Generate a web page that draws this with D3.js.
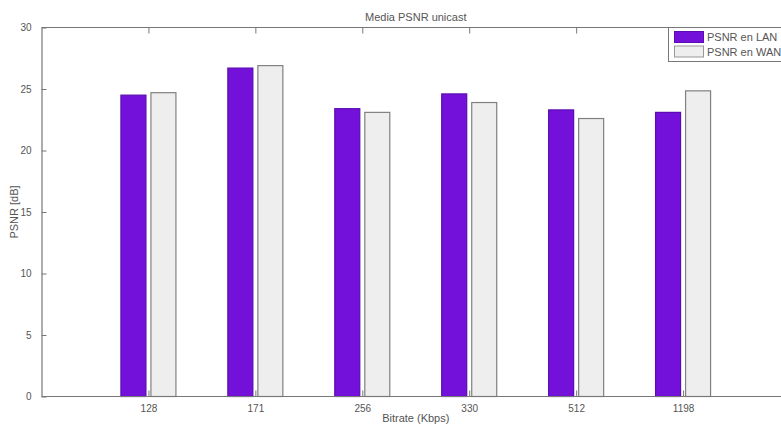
<!DOCTYPE html>
<html>
<head>
<meta charset="utf-8">
<script src="https://cdn.jsdelivr.net/npm/d3@7"></script>
<style>
  html, body { margin: 0; padding: 0; background: #fff; }
  svg { display: block; }
  text { font-family: "Liberation Sans", Arial, sans-serif; fill: #555; }
</style>
</head>
<body>
<div id="chart"></div>
<script>
const categories = ["128", "171", "256", "330", "512", "1198"];
const lanValues = [24.5, 26.7, 23.4, 24.6, 23.3, 23.1];
const wanValues = [24.7, 26.9, 23.1, 23.9, 22.6, 24.85];
const seriesNames = ["PSNR en LAN", "PSNR en WAN"];
const yTicks = [0, 5, 10, 15, 20, 25, 30];
const title = "Media PSNR unicast";
const xLabel = "Bitrate (Kbps)";
const yLabel = "PSNR [dB]";

const W = 781, H = 426;
const svg = d3.select("#chart").append("svg").attr("width", W).attr("height", H);

const mLeft = 41.5, mRight = 790, mTop = 27.5, mBottom = 396.5;
const colors = ["#7311DB", "#EEEEEE"];
const strokes = ["#5a0cb0", "#808080"];
const axisColor = "#777";

// categorical positions at 1..n within domain [0, n+1]
const x = d3.scaleLinear().domain([0, categories.length + 1]).range([mLeft, mRight]);
const y = d3.scaleLinear().domain([0, 30]).range([mBottom, mTop]);

const barW = 25, offset = 15;
const series = [lanValues, wanValues];

series.forEach((vals, si) => {
  svg.append("g").selectAll("rect").data(vals).join("rect")
    .attr("x", (d, i) => x(i + 1) + (si === 0 ? -offset : offset) - barW / 2)
    .attr("y", d => y(d))
    .attr("width", barW)
    .attr("height", d => y(0) - y(d))
    .attr("fill", colors[si])
    .attr("stroke", strokes[si])
    .attr("stroke-width", 1.2);
});

// frame lines
svg.append("line").attr("x1", mLeft).attr("x2", mRight).attr("y1", mBottom).attr("y2", mBottom)
  .attr("stroke", axisColor).attr("stroke-width", 1.2);
svg.append("line").attr("x1", mLeft).attr("x2", mRight).attr("y1", mTop).attr("y2", mTop)
  .attr("stroke", axisColor).attr("stroke-width", 1.2);

// left axis
const yAxis = d3.axisLeft(y).tickValues(yTicks).tickSize(-5).tickPadding(10);
const gy = svg.append("g").attr("transform", `translate(${mLeft},0)`).call(yAxis);
gy.select(".domain").attr("stroke", axisColor).attr("stroke-width", 1.2);
gy.selectAll(".tick line").attr("stroke", axisColor);
gy.selectAll(".tick text").attr("font-size", 10).attr("fill", "#555").attr("font-family", "Liberation Sans, Arial, sans-serif");
gy.selectAll(".tick").filter(d => d === 30 || d === 0).select("line").remove();

// bottom axis
const xAxis = d3.axisBottom(x).tickValues(d3.range(1, categories.length + 1))
  .tickFormat(d => categories[d - 1]).tickSize(-6).tickPadding(8);
const gx = svg.append("g").attr("transform", `translate(0,${mBottom})`).call(xAxis);
gx.select(".domain").remove();
gx.selectAll(".tick line").attr("stroke", axisColor);
gx.selectAll(".tick text").attr("font-size", 10).attr("fill", "#555").attr("font-family", "Liberation Sans, Arial, sans-serif");

// top ticks
const xTop = d3.axisTop(x).tickValues(d3.range(1, categories.length + 1)).tickSize(-6).tickFormat("");
const gt = svg.append("g").attr("transform", `translate(0,${mTop})`).call(xTop);
gt.select(".domain").remove();
gt.selectAll(".tick line").attr("stroke", axisColor);

// title and labels
svg.append("text").attr("x", (mLeft + mRight) / 2).attr("y", 21).attr("text-anchor", "middle")
  .attr("font-size", 11).text(title);
svg.append("text").attr("x", (mLeft + mRight) / 2).attr("y", 422).attr("text-anchor", "middle")
  .attr("font-size", 11).text(xLabel);
svg.append("text").attr("transform", `translate(18,${(mTop + mBottom) / 2}) rotate(-90)`)
  .attr("text-anchor", "middle").attr("font-size", 11).text(yLabel);

// legend
const lg = svg.append("g");
lg.append("rect").attr("x", 668.5).attr("y", 27.5).attr("width", 130).attr("height", 34)
  .attr("fill", "#fff").attr("stroke", axisColor).attr("stroke-width", 1);
seriesNames.forEach((name, i) => {
  lg.append("rect").attr("x", 674.5).attr("y", 31.5 + i * 14.5).attr("width", 29).attr("height", 11)
    .attr("fill", colors[i]).attr("stroke", i === 0 ? strokes[0] : "#999");
  lg.append("text").attr("x", 707).attr("y", 41 + i * 14.5).attr("font-size", 11)
    .attr("fill", "#444").text(name);
});
</script>
</body>
</html>
